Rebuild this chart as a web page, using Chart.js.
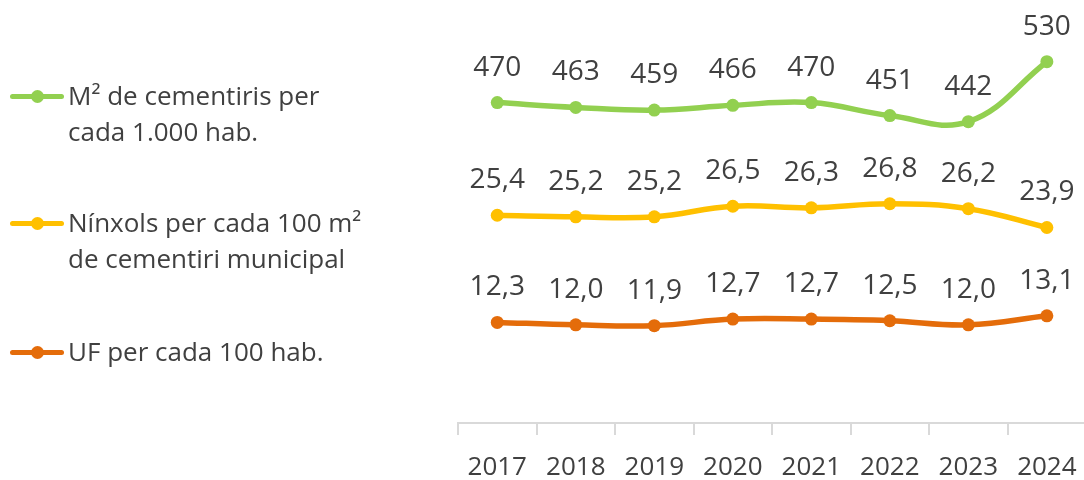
<!DOCTYPE html>
<html>
<head>
<meta charset="utf-8">
<script src="https://cdn.jsdelivr.net/npm/chart.js@4/dist/chart.umd.min.js"></script>
<style>
    html, body { margin: 0; padding: 0; background: #fff; overflow: hidden; }
    #wrap { position: relative; width: 1084px; height: 480px; overflow: hidden; }
    #cementirisChart { position: absolute; left: 0; top: 0; }
    .legend-item { position: absolute; left: 0; width: 400px; height: 80px; }
    .legend-line { position: absolute; left: 10px; width: 54px; height: 5px; border-radius: 3px; }
    .legend-dot { position: absolute; left: 31px; width: 13px; height: 13px; border-radius: 50%; }
    .legend-text { position: absolute; left: 68px; white-space: pre; font-family: 'Open Sans', sans-serif; font-size: 26px; line-height: 36px; color: #404040; }
</style>
</head>
<body>
<div id="wrap">
    <canvas id="cementirisChart" width="1094" height="480"></canvas>
    <div id="legend"></div>
</div>
<script>
const years = ['2017', '2018', '2019', '2020', '2021', '2022', '2023', '2024'];
const m2Cementiris = [470, 463, 459, 466, 470, 451, 442, 530];
const ninxols = [25.4, 25.2, 25.2, 26.5, 26.3, 26.8, 26.2, 23.9];
const ufPer100 = [12.3, 12.0, 11.9, 12.7, 12.7, 12.5, 12.0, 13.1];
const seriesNames = [
    'M² de cementiris per\ncada 1.000 hab.',
    'Nínxols per cada 100 m²\nde cementiri municipal',
    'UF per cada 100 hab.'
];

const colors = ['#92D050', '#FFC000', '#E46C0A'];
const fontFamily = "'Open Sans', sans-serif";
// legend rows, y of the marker line
const legendY = [96, 223, 352];

document.addEventListener('DOMContentLoaded', () => {
    const legend = document.getElementById('legend');
    seriesNames.forEach((name, i) => {
        const item = document.createElement('div');
        item.className = 'legend-item';
        item.style.top = (legendY[i] - 20) + 'px';
        item.innerHTML =
            '<div class="legend-line" style="top:18px;background:' + colors[i] + '"></div>' +
            '<div class="legend-dot" style="top:14px;background:' + colors[i] + '"></div>' +
            '<div class="legend-text" style="top:1px"></div>';
        item.querySelector('.legend-text').textContent = name;
        legend.appendChild(item);
    });

    // no datalabels plugin available, draw the values by hand
    const valueLabels = {
        id: 'valueLabels',
        afterDatasetsDraw(chart) {
            const ctx = chart.ctx;
            ctx.save();
            ctx.font = '28px ' + fontFamily;
            ctx.fillStyle = '#404040';
            ctx.textAlign = 'center';
            ctx.textBaseline = 'middle';
            chart.data.datasets.forEach((ds, i) => {
                chart.getDatasetMeta(i).data.forEach((pt, j) => {
                    const v = ds.data[j];
                    const txt = ds.decimals ? v.toFixed(ds.decimals).replace('.', ',') : String(v);
                    ctx.fillText(txt, pt.x, pt.y - 35);
                });
            });
            ctx.restore();
        }
    };

    const lineStyle = (color) => ({
        borderColor: color,
        backgroundColor: color,
        pointBackgroundColor: color,
        pointBorderWidth: 0,
        pointRadius: 6.5,
        borderWidth: 5.5,
        tension: 0.4,
        fill: false
    });

    const ctx = document.getElementById('cementirisChart').getContext('2d');
    new Chart(ctx, {
        type: 'line',
        data: {
            labels: years,
            datasets: [
                { label: seriesNames[0], data: m2Cementiris, decimals: 0, yAxisID: 'y', ...lineStyle(colors[0]) },
                { label: seriesNames[1], data: ninxols, decimals: 1, yAxisID: 'y1', ...lineStyle(colors[1]) },
                { label: seriesNames[2], data: ufPer100, decimals: 1, yAxisID: 'y1', ...lineStyle(colors[2]) }
            ]
        },
        options: {
            responsive: false,
            animation: false,
            layout: {
                padding: { left: 458, right: 2, top: 14, bottom: 0 }
            },
            plugins: {
                legend: { display: false },
                tooltip: { enabled: false }
            },
            scales: {
                x: {
                    offset: true,
                    grid: {
                        offset: true,
                        drawOnChartArea: false,
                        drawTicks: true,
                        tickLength: 12,
                        color: '#d9d9d9',
                        lineWidth: 2
                    },
                    border: { display: true, color: '#d9d9d9', width: 2 },
                    ticks: {
                        color: '#404040',
                        font: { family: fontFamily, size: 26 },
                        padding: 17,
                        maxRotation: 0,
                        autoSkip: false
                    },
                    afterFit: (scale) => { scale.height = 57; }
                },
                y: { display: false, min: 0, max: 600 },
                y1: { display: false, min: 0, max: 50 }
            }
        },
        plugins: [valueLabels]
    });
});
</script>
</body>
</html>
